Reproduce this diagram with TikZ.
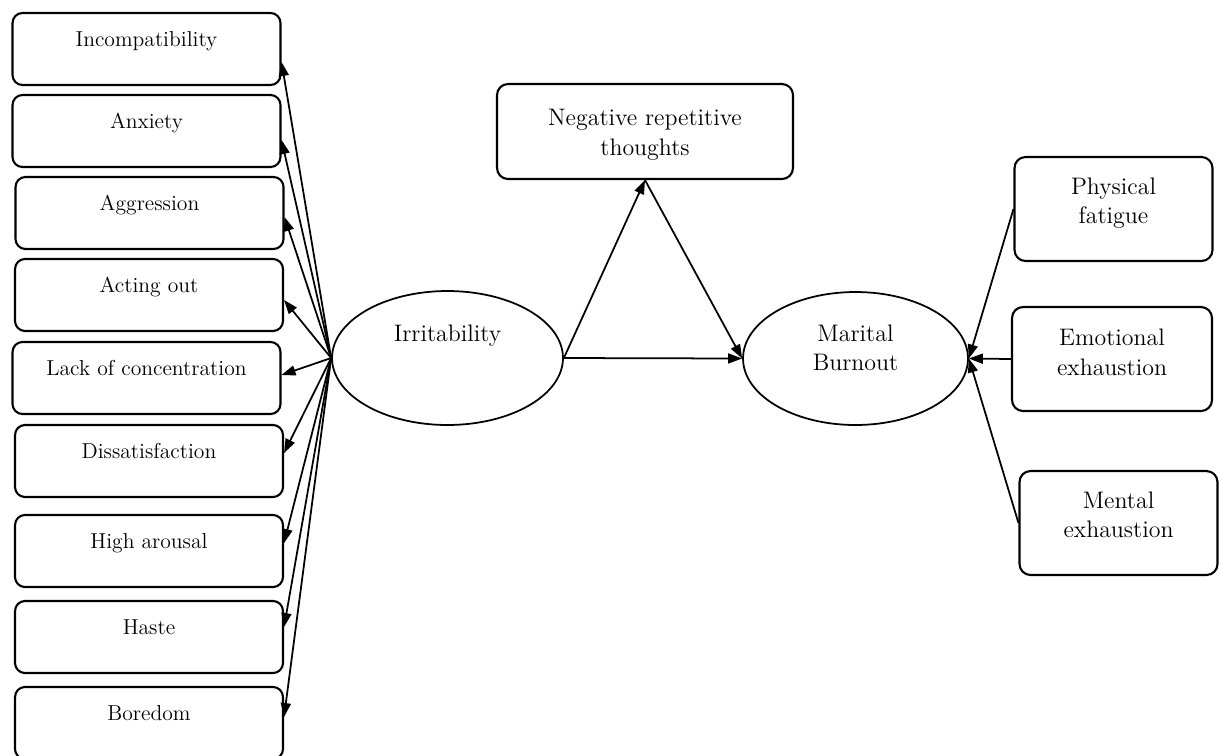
\documentclass[tikz,border=0pt]{standalone}
\usepackage{tikz}
\usetikzlibrary{arrows.meta,shapes.geometric}
\tikzset{
  arr/.style={-{Triangle[length=2.8mm,width=2mm]}, line width=1pt, draw=black},
  figbase/.style={
    x=0.02cm, y=-0.02cm,
    color=black,
    line join=round,
  },
  itembox/.style={
    draw, line width=1.2pt,
    rounded corners=0.2cm,
    inner sep=0pt,
    minimum width=5.36cm, minimum height=1.44cm,
    text height=19.1pt, text depth=21.9pt,
    font=\fontsize{12.3}{14}\selectfont,
  },
  sidebox/.style={
    draw, line width=1.2pt,
    rounded corners=0.22cm,
    inner sep=0pt, align=center,
    minimum width=3.96cm, minimum height=2.08cm,
    text height=25pt, text depth=8pt,
    font=\fontsize{13.6}{16.8}\selectfont,
  },
  latent/.style={
    draw, ellipse, line width=1pt,
    inner sep=0pt, align=center,
    text height=10pt, text depth=29.3pt,
    font=\fontsize{13.6}{16.8}\selectfont,
  },
}

\begin{document}
\begin{tikzpicture}[figbase]
  \useasboundingbox (0,0) rectangle (1219,755);

  % left column of indicators
  \node[itembox] (inc) at (146.5,49) {Incompatibility};
  \node[itembox] (anx) at (146.5,131) {Anxiety};
  \node[itembox] (agg) at (149.5,213) {Aggression};
  \node[itembox] (act) at (149,295) {Acting out};
  \node[itembox] (lac) at (146.5,378) {Lack of concentration};
  \node[itembox] (dis) at (149,461) {Dissatisfaction};
  \node[itembox] (hig) at (149,551) {High arousal};
  \node[itembox] (has) at (149,637) {Haste};
  \node[itembox] (bor) at (149,723) {Boredom};

  \node[latent, minimum width=4.62cm, minimum height=2.68cm] (irr) at (447.5,358) {Irritability};
  \node[latent, minimum width=4.5cm, minimum height=2.66cm, text height=25pt, text depth=10.8pt] (mb)
    at (855.5,358.5) {Marital\\Burnout};

  \node[sidebox, minimum width=5.92cm, minimum height=1.9cm, text height=28pt, text depth=1.2pt] (nrt)
    at (645,131.5) {Negative repetitive\\thoughts};

  \node[sidebox] (pf) at (1113.5,209) {Physical\\fatigue};
  \node[sidebox, minimum width=4cm, text depth=6.8pt] (ee) at (1112,359) {Emotional\\exhaustion};
  \node[sidebox] (mx) at (1118.5,523) {Mental\\exhaustion};

  \draw[arr] (irr.west) -- ([yshift=-0.26cm]inc.east);
  \draw[arr] (irr.west) -- ([yshift=-0.18cm]anx.east);
  \draw[arr] (irr.west) -- ([yshift=-0.08cm]agg.east);
  \draw[arr] (irr.west) -- ([yshift=-0.1cm]act.east);
  \draw[arr] (irr.west) -- ([yshift=0.06cm]lac.east);
  \draw[arr] (irr.west) -- ([yshift=0.16cm]dis.east);
  \draw[arr] (irr.west) -- ([yshift=0.16cm]hig.east);
  \draw[arr] (irr.west) -- ([yshift=0.2cm]has.east);
  \draw[arr] (irr.west) -- ([yshift=0.12cm]bor.east);

  \draw[arr] (irr.east) -- (nrt.south);
  \draw[arr] (nrt.south) -- (mb.west);
  \draw[arr] (irr.east) -- (mb.west);

  \draw[arr] (pf.west) -- (mb.east);
  \draw[arr] (ee.west) -- (mb.east);
  \draw[arr] (mx.west) -- (mb.east);
\end{tikzpicture}
\end{document}
